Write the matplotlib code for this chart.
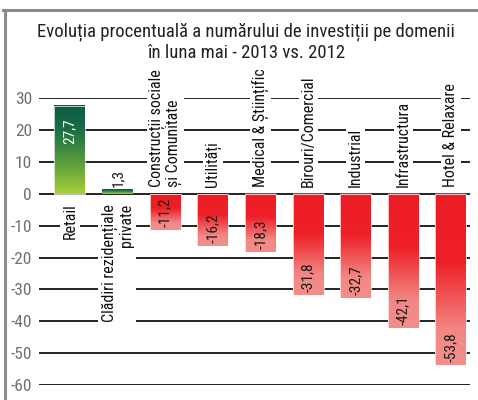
import matplotlib
matplotlib.use("Agg")
import matplotlib.pyplot as plt
import numpy as np
from matplotlib import font_manager
from matplotlib.colors import LinearSegmentedColormap
from matplotlib.lines import Line2D
from matplotlib.patches import Rectangle

categories = [
    "Retail",
    "Clădiri rezidențiale\nprivate",
    "Construcții sociale\nși Comunitate",
    "Utilități",
    "Medical & Științific",
    "Birouri/Comercial",
    "Industrial",
    "Infrastructura",
    "Hotel & Relaxare",
]
values = [27.7, 1.3, -11.2, -16.2, -18.3, -31.8, -32.7, -42.1, -53.8]
yticks = [30, 20, 10, 0, -10, -20, -30, -40, -50, -60]
title = "Evoluția procentuală a numărului de investiții pe domenii\nîn luna mai - 2013 vs. 2012"

available = {f.name for f in font_manager.fontManager.ttflist}
family = "DejaVu Sans"
for name in ["Liberation Sans Narrow", "DejaVu Sans Condensed", "Roboto Condensed", "Open Sans Condensed"]:
    if name in available:
        family = name
        break
plt.rcParams["font.family"] = [family, "DejaVu Sans"]
plt.rcParams["axes.unicode_minus"] = False

green = LinearSegmentedColormap.from_list(
    "g", [(0, "#0b5a48"), (0.3, "#1f7044"), (0.65, "#5a9e3c"), (1, "#a8d03a")])
red = LinearSegmentedColormap.from_list(
    "r", [(0, "#ed1c24"), (0.4, "#ed2027"), (0.8, "#f28885"), (1, "#f38e8b")])

fig = plt.figure(figsize=(4.78, 4.00), dpi=100)
ax = fig.add_axes([0.0816, 0.0375, 0.9017, 0.7163])
ax.set_xlim(-0.65, 8.4)
ax.set_ylim(-60, 30)

for t in yticks:
    ax.axhline(t, color="#222222", lw=1.4, zorder=1)

grad = np.linspace(0, 1, 256).reshape(-1, 1)
w = 0.65
for i, v in enumerate(values):
    x0, x1 = i - w / 2, i + w / 2
    if v > 0:
        ax.imshow(grad, cmap=green, extent=(x0, x1, 0, v), origin="upper",
                  aspect="auto", zorder=3)
    else:
        ax.imshow(grad, cmap=red, extent=(x0, x1, v, 0), origin="upper",
                  aspect="auto", zorder=3)
    if abs(v) > 3:
        ax.add_patch(Rectangle((x0, min(0, v)), w, abs(v), fill=False,
                               ec="white", lw=0.5, zorder=3.5))

    txt = f"{v:.1f}".replace(".", ",")
    if v > 5:
        ax.annotate(txt, (i, v), xytext=(0, -9), textcoords="offset points",
                    rotation=90, ha="center", va="top", color="white",
                    fontsize=11, zorder=5)
    else:
        ax.annotate(txt, (i, v), xytext=(0, 2), textcoords="offset points",
                    rotation=90, ha="center", va="bottom", color="#1a1a1a",
                    fontsize=11, zorder=5)

    box = dict(facecolor="white", edgecolor="none", pad=1.5)
    if v > 0:
        ax.annotate(categories[i], (i, 0), xytext=(0, -7), textcoords="offset points",
                    rotation=90, ha="center", va="top", multialignment="right",
                    fontsize=11.5, color="#111111", bbox=box, zorder=2,
                    annotation_clip=False, linespacing=1.05)
    else:
        ax.annotate(categories[i], (i, 0), xytext=(0, 5), textcoords="offset points",
                    rotation=90, ha="center", va="bottom", multialignment="left",
                    fontsize=11.5, color="#111111", bbox=box, zorder=2,
                    annotation_clip=False, linespacing=1.05)

ax.set_yticks(yticks)
ax.set_yticklabels([str(t) for t in yticks], color="#707070", fontsize=12.5)
ax.tick_params(axis="y", length=0, pad=5)
ax.set_xticks([])
for s in ax.spines.values():
    s.set_visible(False)

fig.text(0.515, 0.895, title, ha="center", va="center", fontsize=13.5,
         color="#222222", linespacing=1.2)

fig.add_artist(Line2D([3 / 478, 1], [0.975, 0.975], color="#8a8a8a", lw=2.2))
fig.add_artist(Line2D([4.5 / 478, 4.5 / 478], [0, 0.975], color="#8a8a8a", lw=2.2))

fig.savefig("out.png", dpi=100)
